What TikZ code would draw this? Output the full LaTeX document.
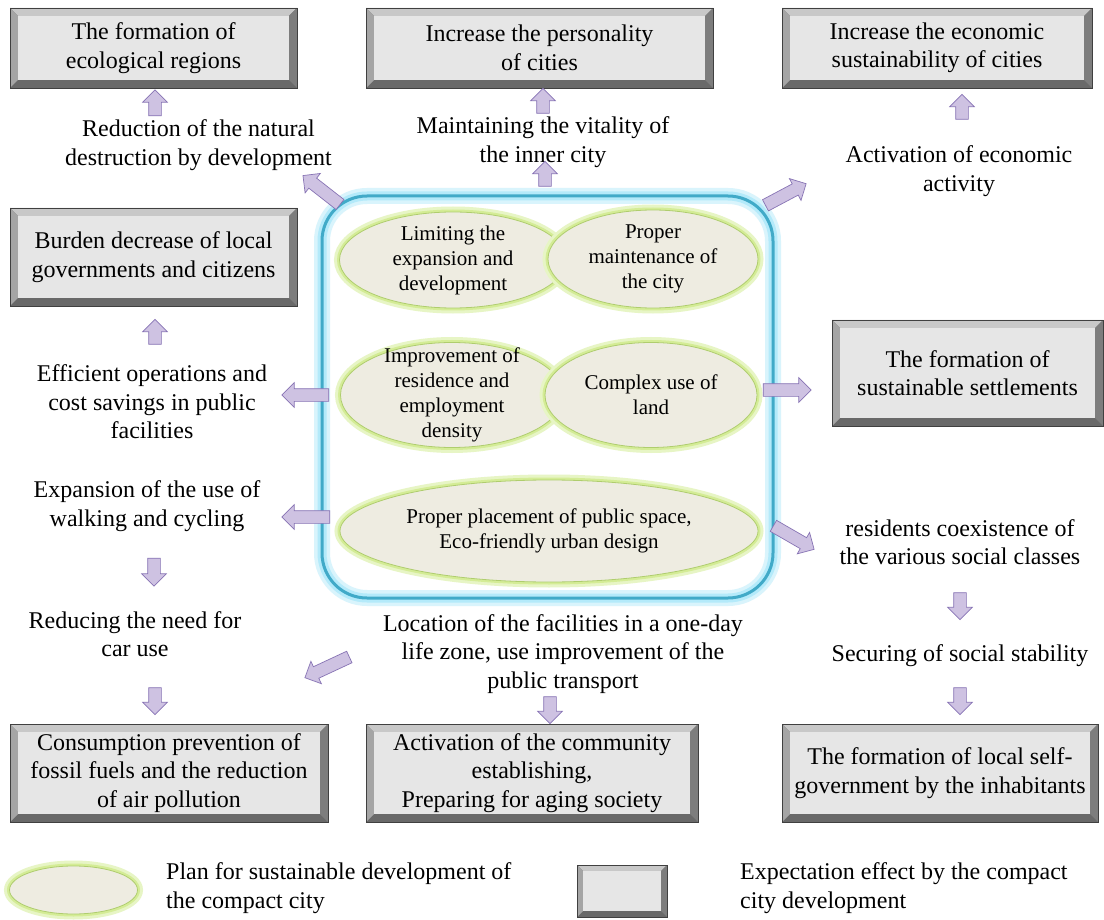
\documentclass[tikz,border=0pt]{standalone}
\usepackage{fontspec}
\setmainfont{Liberation Serif}
\usetikzlibrary{shapes.geometric,shapes.arrows}
\definecolor{boxface}{RGB}{230,230,230}
\definecolor{beveltop}{RGB}{200,200,200}
\definecolor{bevelleft}{RGB}{165,165,165}
\definecolor{bevelright}{RGB}{125,125,125}
\definecolor{bevelbottom}{RGB}{105,105,105}
\definecolor{ellfill}{RGB}{238,236,225}
\definecolor{elledge}{RGB}{175,205,110}
\definecolor{ellglow}{RGB}{212,236,150}
\definecolor{blueline}{RGB}{65,170,200}
\definecolor{blueglow}{RGB}{180,234,250}
\definecolor{arrfill}{RGB}{206,194,226}
\definecolor{arredge}{RGB}{135,115,180}
\tikzset{
  txt/.style={font=\fontsize{24}{28.5}\selectfont},
  gbox/.style={rectangle, draw=black!75, line width=0.8pt, fill=bevelbottom,
    inner sep=0pt, align=center, txt,
    path picture={
      \fill[beveltop] (path picture bounding box.north west) -- (path picture bounding box.north east)
        -- ([shift={(-#1,-#1)}]path picture bounding box.north east) -- ([shift={(#1,-#1)}]path picture bounding box.north west) -- cycle;
      \fill[bevelleft] (path picture bounding box.north west) -- ([shift={(#1,-#1)}]path picture bounding box.north west)
        -- ([shift={(#1,#1)}]path picture bounding box.south west) -- (path picture bounding box.south west) -- cycle;
      \fill[bevelright] (path picture bounding box.north east) -- (path picture bounding box.south east)
        -- ([shift={(-#1,#1)}]path picture bounding box.south east) -- ([shift={(-#1,-#1)}]path picture bounding box.north east) -- cycle;
      \fill[boxface] ([shift={(#1,-#1)}]path picture bounding box.north west) rectangle ([shift={(-#1,#1)}]path picture bounding box.south east);
    }},
  gbox/.default=8pt,
  ell/.style={ellipse, draw=elledge, fill=ellfill, line width=0.8pt, inner sep=0pt,
    preaction={draw=ellglow!55, line width=11pt},
    preaction={draw=ellglow, line width=5pt}},
  etxt/.style={align=center, inner sep=0pt, font=\fontsize{21}{25}\selectfont},
  lbl/.style={align=center, inner sep=0pt, txt},
  frame/.style={rectangle, rounded corners=45pt, draw=blueline, line width=3pt, inner sep=0pt,
    preaction={draw=blueglow!50, line width=16pt},
    preaction={draw=blueglow, line width=9pt}},
  barrow/.style={single arrow, draw=arredge, fill=arrfill, line width=0.7pt,
    inner xsep=0pt, inner ysep=6pt, text height=0pt, text depth=0pt, text width=0pt,
    minimum width=0pt, single arrow head extend=6pt, single arrow tip angle=90}
}
\begin{document}
\begin{tikzpicture}[x=1pt,y=-1pt]
\useasboundingbox (0,0) rectangle (1104,920);
\fill[white] (0,0) rectangle (1104,920);

% central frame
\node[frame, minimum width=451pt, minimum height=402pt] (frame) at (547.5,397) {};

% ellipses
\node[ell, minimum width=227pt, minimum height=96pt] (e1) at (453,260) {};
\node[ell, minimum width=210pt, minimum height=98pt] (e2) at (653,259) {};
\node[ell, minimum width=223pt, minimum height=105pt] (e3) at (452,395) {};
\node[ell, minimum width=212pt, minimum height=105pt] (e4) at (651,395) {};
\node[ell, minimum width=418pt, minimum height=102pt] (e5) at (549,531) {};
\node[etxt] (e1t) at (e1) {Limiting the\\expansion and\\development};
\node[etxt] (e2t) at (e2) {Proper\\maintenance of\\the city};
\node[etxt] (e3t) at (e3) {Improvement of\\residence and\\employment\\density};
\node[etxt] (e4t) at (e4) {Complex use of\\land};
\node[etxt] (e5t) at (e5) {Proper placement of public space,\\Eco-friendly urban design};

% gray boxes
\node[gbox, minimum width=287pt, minimum height=80pt] (b1) at (153.5,48) {The formation of\\ecological regions};
\node[gbox, minimum width=347pt, minimum height=80pt] (b2) at (539.5,48) {Increase the personality\\of cities};
\node[gbox, minimum width=310pt, minimum height=80pt] (b3) at (937,48) {Increase the economic\\sustainability of cities};
\node[gbox, minimum width=287pt, minimum height=98pt] (b4) at (153.5,257) {Burden decrease of local\\governments and citizens};
\node[gbox, minimum width=271pt, minimum height=106pt] (b5) at (967.5,373) {The formation of\\sustainable settlements};
\node[gbox, minimum width=318pt, minimum height=98pt] (b6) at (169,773) {Consumption prevention of\\fossil fuels and the reduction\\of air pollution};
\node[gbox, minimum width=332pt, minimum height=98pt] (b7) at (532,773) {Activation of the community\\establishing,\\Preparing for aging society};
\node[gbox, minimum width=316pt, minimum height=98pt] (b8) at (940,773) {The formation of local self-\\government by the inhabitants};

% labels
\node[lbl] (t1) at (198.5,145) {Reduction of the natural\\destruction by development};
\node[lbl] (t2) at (543,142) {Maintaining the vitality of\\the inner city};
\node[lbl] (t3) at (959,171) {Activation of economic\\activity};
\node[lbl] (t4) at (152,402) {Efficient operations and\\cost savings in public\\facilities};
\node[lbl] (t5) at (147,506) {Expansion of the use of\\walking and cycling};
\node[lbl] (t6) at (135,634) {Reducing the need for\\car use};
\node[lbl] (t7) at (563,654) {Location of the facilities in a one-day\\life zone, use improvement of the\\public transport};
\node[lbl] (t8) at (960,542) {residents coexistence of\\the various social classes};
\node[lbl] (t9) at (960,656) {Securing of social stability};

% block arrows
\node[barrow, minimum height=26pt, rotate=90] (a1) at (155,106) {};
\node[barrow, minimum height=25pt, rotate=90] (a2) at (543,104) {};
\node[barrow, minimum height=25pt, rotate=90] (a3) at (545,177) {};
\node[barrow, minimum height=25pt, rotate=90] (a4) at (962,110) {};
\node[barrow, minimum height=47pt, rotate=142] (a5) at (324,192) {};
\node[barrow, minimum height=46pt, rotate=28] (a6) at (783,196) {};
\node[barrow, minimum height=25pt, rotate=90] (a7) at (155,335) {};
\node[barrow, minimum height=47pt, rotate=180] (a8) at (308.5,395) {};
\node[barrow, minimum height=48pt, rotate=0] (a9) at (784,390) {};
\node[barrow, minimum height=48pt, rotate=180] (a10) at (309,517) {};
\node[barrow, minimum height=47pt, rotate=-30] (a11) at (791,536) {};
\node[barrow, minimum height=49pt, rotate=205] (a12) at (330,666) {};
\node[barrow, minimum height=28pt, rotate=-90] (a13) at (154,569) {};
\node[barrow, minimum height=27pt, rotate=-90] (a14) at (960,603) {};
\node[barrow, minimum height=27pt, rotate=-90] (a15) at (155,698) {};
\node[barrow, minimum height=27pt, rotate=-90] (a16) at (550,707) {};
\node[barrow, minimum height=27pt, rotate=-90] (a17) at (960,698) {};

% legend
\node[ell, minimum width=128pt, minimum height=48pt] (legell) at (73.5,890) {};
\node[lbl, anchor=west, align=left] (leg1) at (166,888) {Plan for sustainable development of\\the compact city};
\node[gbox=6pt, minimum width=90pt, minimum height=52pt] (legbox) at (622,891) {};
\node[lbl, anchor=west, align=left] (leg2) at (740,888) {Expectation effect by the compact\\city development};
\end{tikzpicture}
\end{document}
